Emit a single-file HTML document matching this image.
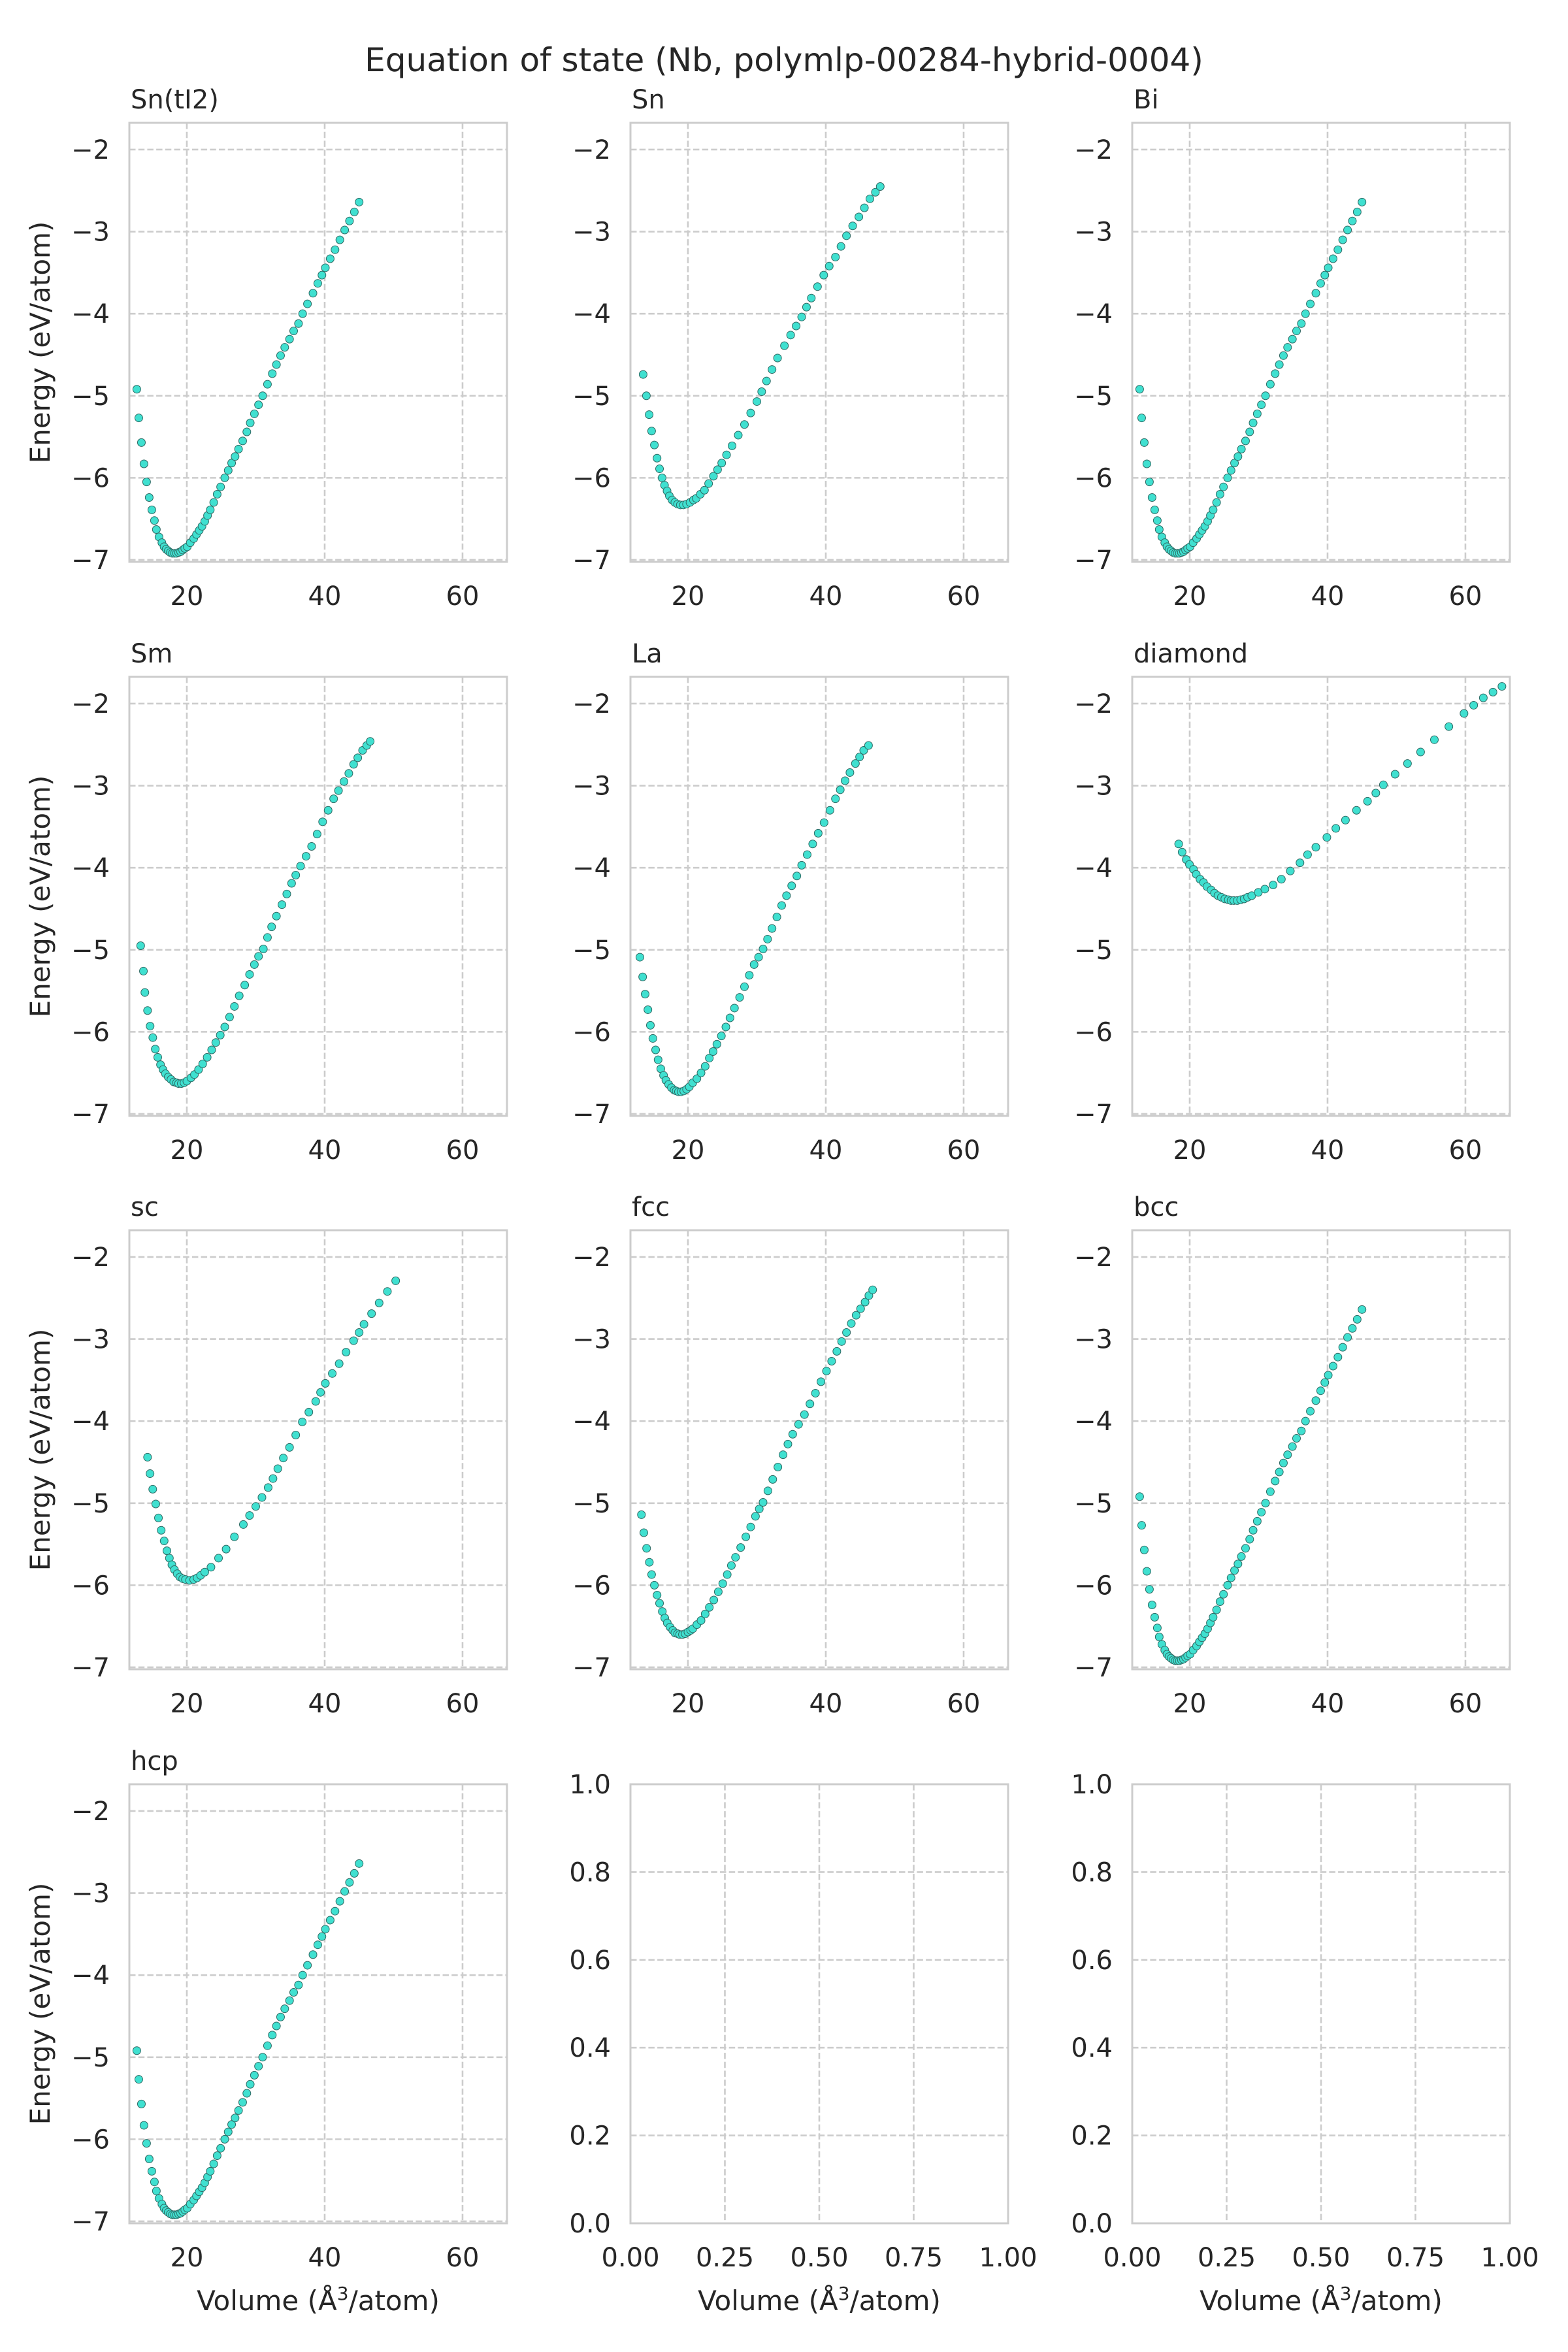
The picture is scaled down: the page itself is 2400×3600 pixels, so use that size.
<!DOCTYPE html>
<html>
<head>
<meta charset="utf-8">
<title>Equation of state (Nb, polymlp-00284-hybrid-0004)</title>
<style>
  html, body { margin: 0; padding: 0; background: #ffffff; }
  svg { display: block; }
  text { font-family: "DejaVu Sans", "Liberation Sans", sans-serif; fill: #262626; }
</style>
</head>
<body>
<svg id="fig" xmlns="http://www.w3.org/2000/svg" width="2400" height="3600" viewBox="0 0 2400 3600">
  <rect x="0" y="0" width="2400" height="3600" fill="#ffffff"/>
  <text x="1200" y="109" font-size="50" text-anchor="middle">Equation of state (Nb, polymlp-00284-hybrid-0004)</text>
</svg>
<script>
// ---- data (volume in Å^3/atom, energy in eV/atom) ----
const volSnTI2 = [12.74,13.03,13.41,13.78,14.16,14.54,14.92,15.30,15.58,15.96,16.38,16.7,17.0,17.3,17.6,17.9,18.2,18.5,18.8,19.1,19.4,19.7,20.06,20.5,21.0,21.4,21.8,22.2,22.6,23.0,23.4,23.9,24.4,24.9,25.5,26.0,26.5,27.0,27.5,28.1,28.7,29.2,29.8,30.4,31.0,31.7,32.4,33.0,33.6,34.2,34.9,35.5,36.2,36.8,37.5,38.3,39.0,39.6,40.1,40.8,41.5,42.2,42.9,43.6,44.3,45.0];
const engSnTI2 = [-4.92,-5.27,-5.57,-5.83,-6.05,-6.24,-6.39,-6.52,-6.63,-6.72,-6.79,-6.84,-6.87,-6.89,-6.91,-6.92,-6.92,-6.92,-6.91,-6.90,-6.88,-6.86,-6.84,-6.79,-6.74,-6.69,-6.64,-6.59,-6.53,-6.46,-6.39,-6.30,-6.20,-6.11,-6.00,-5.91,-5.82,-5.74,-5.65,-5.55,-5.44,-5.33,-5.22,-5.11,-5.00,-4.86,-4.73,-4.62,-4.51,-4.41,-4.31,-4.21,-4.12,-4.00,-3.88,-3.75,-3.63,-3.53,-3.44,-3.33,-3.22,-3.10,-2.98,-2.87,-2.76,-2.64];

const volSn = [13.5,13.97,14.37,14.73,15.13,15.52,15.88,16.25,16.6,16.97,17.3,17.7,18.1,18.5,18.9,19.35,19.8,20.3,20.8,21.2,21.8,22.4,23.0,23.7,24.3,24.9,25.6,26.4,27.3,28.2,29.1,30.0,30.7,31.4,32.2,33.0,34.0,34.9,35.7,36.5,37.2,37.9,38.8,39.7,40.5,41.4,42.2,43.0,43.9,44.8,45.6,46.4,47.2,47.9];
const engSn = [-4.74,-5.00,-5.23,-5.43,-5.60,-5.76,-5.89,-6.00,-6.09,-6.16,-6.22,-6.27,-6.30,-6.32,-6.33,-6.33,-6.32,-6.30,-6.27,-6.25,-6.20,-6.15,-6.07,-5.98,-5.90,-5.82,-5.72,-5.61,-5.48,-5.35,-5.21,-5.07,-4.95,-4.82,-4.68,-4.54,-4.39,-4.26,-4.15,-4.04,-3.92,-3.81,-3.67,-3.53,-3.42,-3.31,-3.18,-3.05,-2.93,-2.82,-2.71,-2.60,-2.52,-2.45];

const volBi = [12.74,13.03,13.41,13.78,14.16,14.54,14.92,15.30,15.58,15.96,16.38,16.7,17.0,17.3,17.6,17.9,18.2,18.5,18.8,19.1,19.4,19.7,20.06,20.5,21.0,21.4,21.8,22.2,22.6,23.0,23.4,23.9,24.4,24.9,25.5,26.0,26.5,27.0,27.5,28.1,28.7,29.2,29.8,30.4,31.0,31.7,32.4,33.0,33.6,34.2,34.9,35.5,36.2,36.8,37.5,38.3,39.0,39.6,40.1,40.8,41.5,42.2,42.9,43.6,44.3,45.0];
const engBi = [-4.92,-5.27,-5.57,-5.83,-6.05,-6.24,-6.39,-6.52,-6.63,-6.72,-6.79,-6.84,-6.87,-6.89,-6.91,-6.92,-6.92,-6.92,-6.91,-6.90,-6.88,-6.86,-6.84,-6.79,-6.74,-6.69,-6.64,-6.59,-6.53,-6.46,-6.39,-6.30,-6.20,-6.11,-6.00,-5.91,-5.82,-5.74,-5.65,-5.55,-5.44,-5.33,-5.22,-5.11,-5.00,-4.86,-4.73,-4.62,-4.51,-4.41,-4.31,-4.21,-4.12,-4.00,-3.88,-3.75,-3.63,-3.53,-3.44,-3.33,-3.22,-3.10,-2.98,-2.87,-2.76,-2.64];

const volSm = [13.3,13.7,13.91,14.3,14.67,15.06,15.42,15.78,16.18,16.54,16.9,17.3,17.7,18.1,18.5,18.8,19.2,19.6,20.0,20.6,21.1,21.7,22.3,22.95,23.6,24.2,24.85,25.5,26.2,26.9,27.6,28.4,29.1,29.8,30.4,31.1,31.7,32.3,33.0,33.8,34.5,35.2,35.8,36.5,37.3,38.1,38.9,39.7,40.5,41.3,42.0,42.8,43.5,44.2,44.8,45.5,46.1,46.6];
const engSm = [-4.95,-5.26,-5.52,-5.74,-5.93,-6.07,-6.21,-6.31,-6.40,-6.46,-6.51,-6.55,-6.58,-6.61,-6.62,-6.63,-6.63,-6.62,-6.60,-6.56,-6.52,-6.46,-6.39,-6.31,-6.22,-6.13,-6.04,-5.94,-5.82,-5.69,-5.56,-5.43,-5.30,-5.18,-5.08,-4.99,-4.85,-4.72,-4.59,-4.45,-4.32,-4.19,-4.09,-3.98,-3.86,-3.74,-3.59,-3.44,-3.30,-3.16,-3.06,-2.95,-2.85,-2.74,-2.66,-2.57,-2.51,-2.46];

const volLa = [13.03,13.43,13.79,14.19,14.55,14.91,15.31,15.67,16.06,16.46,16.8,17.2,17.6,18.0,18.3,18.63,19.0,19.4,19.8,20.2,20.7,21.3,21.9,22.5,23.1,23.65,24.2,24.85,25.5,26.1,26.75,27.5,28.2,28.9,29.6,30.25,30.9,31.55,32.2,32.9,33.6,34.3,35.05,35.8,36.5,37.3,38.1,38.9,39.75,40.6,41.4,42.1,42.8,43.5,44.3,44.9,45.5,46.2];
const engLa = [-5.09,-5.33,-5.54,-5.73,-5.92,-6.08,-6.22,-6.34,-6.45,-6.53,-6.59,-6.64,-6.68,-6.71,-6.72,-6.73,-6.73,-6.72,-6.70,-6.67,-6.62,-6.57,-6.50,-6.42,-6.32,-6.24,-6.15,-6.05,-5.94,-5.83,-5.71,-5.58,-5.45,-5.31,-5.18,-5.09,-4.99,-4.87,-4.74,-4.60,-4.46,-4.34,-4.22,-4.10,-3.97,-3.84,-3.71,-3.58,-3.45,-3.30,-3.16,-3.05,-2.94,-2.84,-2.73,-2.65,-2.57,-2.51];

const volDiamond = [18.4,18.9,19.5,19.96,20.55,20.95,21.5,22.0,22.5,23.1,23.6,24.1,24.6,25.1,25.6,26.0,26.4,26.9,27.4,27.9,28.4,29.0,29.95,30.9,32.1,33.3,34.6,36.0,37.1,38.3,39.9,41.2,42.6,44.2,45.8,47.0,48.1,49.8,51.6,53.5,55.5,57.6,59.8,61.2,62.6,64.0,65.3];
const engDiamond = [-3.71,-3.81,-3.90,-3.96,-4.02,-4.08,-4.14,-4.18,-4.23,-4.27,-4.31,-4.34,-4.36,-4.38,-4.39,-4.40,-4.40,-4.40,-4.39,-4.38,-4.36,-4.34,-4.30,-4.26,-4.21,-4.14,-4.04,-3.94,-3.84,-3.75,-3.63,-3.52,-3.42,-3.30,-3.19,-3.09,-2.99,-2.86,-2.73,-2.59,-2.44,-2.28,-2.12,-2.02,-1.93,-1.86,-1.79];

const volSc = [14.3,14.66,15.05,15.49,15.88,16.28,16.71,17.11,17.47,17.83,18.2,18.6,19.0,19.4,19.8,20.4,21.0,21.5,22.0,22.6,23.5,24.6,25.7,26.9,28.2,29.1,30.0,30.9,31.8,32.5,33.2,34.0,34.9,35.8,36.75,37.7,38.7,39.4,40.1,41.1,42.1,43.1,44.2,45.0,45.7,46.8,47.9,49.1,50.3];
const engSc = [-4.44,-4.64,-4.83,-5.01,-5.18,-5.33,-5.46,-5.58,-5.67,-5.75,-5.81,-5.86,-5.90,-5.92,-5.93,-5.94,-5.93,-5.91,-5.88,-5.84,-5.78,-5.67,-5.56,-5.41,-5.26,-5.15,-5.04,-4.93,-4.81,-4.70,-4.58,-4.45,-4.32,-4.17,-4.01,-3.89,-3.76,-3.65,-3.54,-3.42,-3.30,-3.16,-3.02,-2.92,-2.82,-2.69,-2.56,-2.42,-2.29];

const volFcc = [13.25,13.6,14.0,14.4,14.73,15.13,15.52,15.88,16.28,16.64,17.0,17.4,17.8,18.1,18.5,18.8,19.2,19.6,20.0,20.4,20.7,21.3,21.9,22.5,23.1,23.75,24.4,25.05,25.7,26.3,26.9,27.65,28.4,29.1,29.8,30.35,30.9,31.6,32.3,33.05,33.8,34.5,35.2,36.05,36.9,37.7,38.5,39.3,40.1,40.85,41.6,42.3,43.0,43.7,44.4,45.05,45.7,46.25,46.8];
const engFcc = [-5.14,-5.36,-5.55,-5.72,-5.87,-6.00,-6.12,-6.22,-6.32,-6.40,-6.46,-6.51,-6.55,-6.58,-6.59,-6.60,-6.60,-6.59,-6.57,-6.55,-6.53,-6.48,-6.43,-6.35,-6.27,-6.18,-6.08,-5.98,-5.87,-5.76,-5.66,-5.54,-5.41,-5.29,-5.16,-5.07,-4.99,-4.85,-4.71,-4.56,-4.41,-4.28,-4.16,-4.04,-3.92,-3.79,-3.66,-3.52,-3.39,-3.27,-3.15,-3.03,-2.92,-2.81,-2.71,-2.63,-2.55,-2.47,-2.40];

const volBcc = [12.74,13.03,13.41,13.78,14.16,14.54,14.92,15.30,15.58,15.96,16.38,16.7,17.0,17.3,17.6,17.9,18.2,18.5,18.8,19.1,19.4,19.7,20.06,20.5,21.0,21.4,21.8,22.2,22.6,23.0,23.4,23.9,24.4,24.9,25.5,26.0,26.5,27.0,27.5,28.1,28.7,29.2,29.8,30.4,31.0,31.7,32.4,33.0,33.6,34.2,34.9,35.5,36.2,36.8,37.5,38.3,39.0,39.6,40.1,40.8,41.5,42.2,42.9,43.6,44.3,45.0];
const engBcc = [-4.92,-5.27,-5.57,-5.83,-6.05,-6.24,-6.39,-6.52,-6.63,-6.72,-6.79,-6.84,-6.87,-6.89,-6.91,-6.92,-6.92,-6.92,-6.91,-6.90,-6.88,-6.86,-6.84,-6.79,-6.74,-6.69,-6.64,-6.59,-6.53,-6.46,-6.39,-6.30,-6.20,-6.11,-6.00,-5.91,-5.82,-5.74,-5.65,-5.55,-5.44,-5.33,-5.22,-5.11,-5.00,-4.86,-4.73,-4.62,-4.51,-4.41,-4.31,-4.21,-4.12,-4.00,-3.88,-3.75,-3.63,-3.53,-3.44,-3.33,-3.22,-3.10,-2.98,-2.87,-2.76,-2.64];

const volHcp = [12.74,13.03,13.41,13.78,14.16,14.54,14.92,15.30,15.58,15.96,16.38,16.7,17.0,17.3,17.6,17.9,18.2,18.5,18.8,19.1,19.4,19.7,20.06,20.5,21.0,21.4,21.8,22.2,22.6,23.0,23.4,23.9,24.4,24.9,25.5,26.0,26.5,27.0,27.5,28.1,28.7,29.2,29.8,30.4,31.0,31.7,32.4,33.0,33.6,34.2,34.9,35.5,36.2,36.8,37.5,38.3,39.0,39.6,40.1,40.8,41.5,42.2,42.9,43.6,44.3,45.0];
const engHcp = [-4.92,-5.27,-5.57,-5.83,-6.05,-6.24,-6.39,-6.52,-6.63,-6.72,-6.79,-6.84,-6.87,-6.89,-6.91,-6.92,-6.92,-6.92,-6.91,-6.90,-6.88,-6.86,-6.84,-6.79,-6.74,-6.69,-6.64,-6.59,-6.53,-6.46,-6.39,-6.30,-6.20,-6.11,-6.00,-5.91,-5.82,-5.74,-5.65,-5.55,-5.44,-5.33,-5.22,-5.11,-5.00,-4.86,-4.73,-4.62,-4.51,-4.41,-4.31,-4.21,-4.12,-4.00,-3.88,-3.75,-3.63,-3.53,-3.44,-3.33,-3.22,-3.10,-2.98,-2.87,-2.76,-2.64];

const structureNames = ["Sn(tI2)","Sn","Bi","Sm","La","diamond","sc","fcc","bcc","hcp"];
const xTickValues = [20, 40, 60];
const yTickValues = [-2, -3, -4, -5, -6, -7];
const emptyXTicks = [0, 0.25, 0.5, 0.75, 1.0];
const emptyXTickLabels = ["0.00","0.25","0.50","0.75","1.00"];
const emptyYTicks = [0, 0.2, 0.4, 0.6, 0.8, 1.0];
const emptyYTickLabels = ["0.0","0.2","0.4","0.6","0.8","1.0"];
const xDomain = [11.66, 66.45];
const yDomain = [-7.024, -1.674];

// ---- layout ----
const NS = "http://www.w3.org/2000/svg";
const svg = document.getElementById("fig");
const colLeft = [198, 965, 1733];
const rowTop = [188, 1036, 1883, 2731];
const PW = 578, PH = 672;
const GRID = "#cccccc";

function el(tag, parent) {
  const e = document.createElementNS(NS, tag);
  parent.appendChild(e);
  return e;
}
function attrs(e, o) { for (const k in o) e.setAttribute(k, o[k]); return e; }
function fmtNeg(v) { return v < 0 ? "\u2212" + Math.abs(v) : String(v); }

function makeAxes(left, top, dom, ticksX, ticksY, labX, labY, slug) {
  const sx = v => left + (v - dom.x0) / (dom.x1 - dom.x0) * PW;
  const sy = v => top + PH - (v - dom.y0) / (dom.y1 - dom.y0) * PH;
  const g = el("g", svg);
  
  
  const bg = attrs(el("rect", g), {x:left, y:top, width:PW, height:PH, fill:"#ffffff"});
  
  
  ticksX.forEach((v, i) => {
    const x = sx(v);
    const gl = attrs(el("line", g), {x1:x, x2:x, y1:top, y2:top+PH, stroke:GRID, "stroke-width":2.6, "stroke-dasharray":"9.5 4.2"});
    
    
    const t = attrs(el("text", g), {x:x, y:top+PH+66, "font-size":40, "text-anchor":"middle"});
    t.textContent = labX[i];
    
    
  });
  ticksY.forEach((v, i) => {
    const y = sy(v);
    const gl = attrs(el("line", g), {x1:left, x2:left+PW, y1:y, y2:y, stroke:GRID, "stroke-width":2.6, "stroke-dasharray":"9.5 4.2"});
    
    
    const t = attrs(el("text", g), {x:left-30, y:y+14, "font-size":40, "text-anchor":"end"});
    t.textContent = labY[i];
    
    
  });
  return {g, sx, sy};
}

function spines(g, left, top, slug) {
  const r = attrs(el("rect", g), {x:left, y:top, width:PW, height:PH, fill:"none", stroke:GRID, "stroke-width":3});
  
  
}

const panelSeries = [
  [volSnTI2, engSnTI2], [volSn, engSn], [volBi, engBi],
  [volSm, engSm], [volLa, engLa], [volDiamond, engDiamond],
  [volSc, engSc], [volFcc, engFcc], [volBcc, engBcc],
  [volHcp, engHcp]
];

const dom = {x0:xDomain[0], x1:xDomain[1], y0:yDomain[0], y1:yDomain[1]};
structureNames.forEach((name, idx) => {
  const row = Math.floor(idx / 3), col = idx % 3;
  const left = colLeft[col], top = rowTop[row];
  const slug = "panel-" + name.toLowerCase().replace(/[^a-z0-9]+/g, "");
  const ax = makeAxes(left, top, dom, xTickValues, yTickValues,
    xTickValues.map(String), yTickValues.map(fmtNeg), slug);
  const ser = el("g", ax.g);
  
  
  const vs = panelSeries[idx][0], es = panelSeries[idx][1];
  const n = Math.min(vs.length, es.length);
  for (let i = 0; i < n; i++) {
    const c = attrs(el("circle", ser), {cx:ax.sx(vs[i]), cy:ax.sy(es[i]), r:6, fill:"#40e0d0", stroke:"#2e6963", "stroke-width":1});
    
    
  }
  spines(ax.g, left, top, slug);
  const tt = attrs(el("text", ax.g), {x:left+2, y:top-22, "font-size":40});
  tt.textContent = name;
  
  
  if (col === 0) {
    const cy = top + PH/2;
    const yl = attrs(el("text", ax.g), {x:0, y:0, "font-size":42, "text-anchor":"middle", transform:"translate(76," + cy + ") rotate(-90)"});
    yl.textContent = "Energy (eV/atom)";
    
    
  }
});

// empty panels
[1, 2].forEach(col => {
  const left = colLeft[col], top = rowTop[3];
  const slug = "panel-empty-" + col;
  const ax = makeAxes(left, top, {x0:0, x1:1, y0:0, y1:1}, emptyXTicks, emptyYTicks, emptyXTickLabels, emptyYTickLabels, slug);
  spines(ax.g, left, top, slug);
});

// x axis titles (bottom row)
[0, 1, 2].forEach(col => {
  const cx = colLeft[col] + PW/2;
  const t = attrs(el("text", svg), {x:cx, y:rowTop[3]+PH+133, "font-size":42, "text-anchor":"middle"});
  
  
  const a = el("tspan", t); a.textContent = "Volume (\u00C5";
  const s = attrs(el("tspan", t), {"baseline-shift":"super", "font-size":28}); s.textContent = "3";
  const b = el("tspan", t); b.textContent = "/atom)";
});
</script>
</body>
</html>
